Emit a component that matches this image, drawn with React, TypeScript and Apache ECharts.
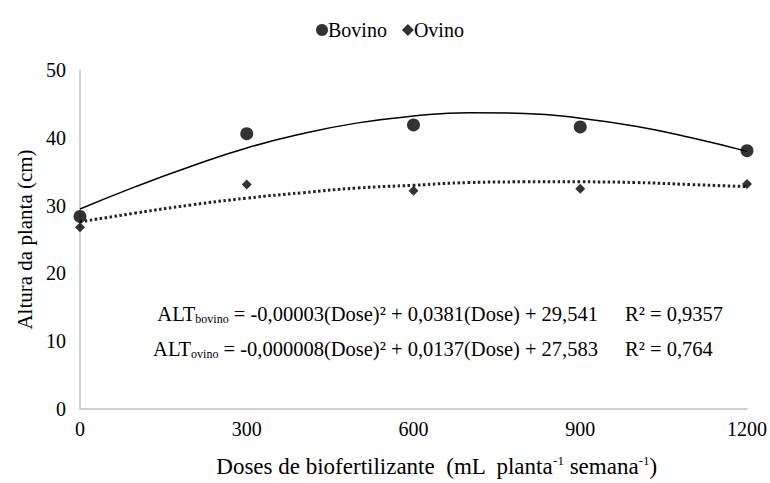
import React, { useEffect, useRef } from "react";
import * as echarts from "echarts";

const doses = [0, 300, 600, 900, 1200];
const bovino = [28.4, 40.6, 41.9, 41.6, 38.1];
const ovino = [26.8, 33.1, 32.2, 32.5, 33.2];

const curveDoses = [0, 100, 200, 300, 400, 500, 600, 700, 800, 900, 1000, 1100, 1200];
const bovinoCurve = [29.5, 32.8, 35.8, 38.5, 40.6, 42.2, 43.2, 43.7, 43.6, 42.9, 41.7, 40.0, 38.0];
const ovinoCurve = [27.6, 28.9, 30.1, 31.1, 31.9, 32.6, 33.0, 33.4, 33.5, 33.5, 33.4, 33.1, 32.8];

const xTicks = [0, 1200, 300];
const yTicks = [0, 50, 10];

const eqBovino = ["ALT", "bovino", " = -0,00003(Dose)² + 0,0381(Dose) + 29,541", "R² = 0,9357"];
const eqOvino = ["ALT", "ovino", " = -0,000008(Dose)² + 0,0137(Dose) + 27,583", "R² = 0,764"];

const FONT = "Liberation Serif";

export default function App() {
  const ref = useRef<HTMLDivElement>(null);
  useEffect(() => {
    if (!ref.current) return;
    const chart = echarts.init(ref.current, undefined, { renderer: "svg" });
    const sub = { fontSize: 12, fontFamily: FONT, color: "#333", verticalAlign: "bottom", lineHeight: 22 };
    const main = { fontSize: 20.5, fontFamily: FONT, color: "#000", lineHeight: 22 };
    const eq = (e: string[], y: number) => [
      {
        type: "text",
        right: 770 - 598,
        top: y,
        style: {
          text: `{m|${e[0]}}{s|${e[1]}}{m|${e[2]}}`,
          rich: { m: main, s: sub },
        },
      },
      {
        type: "text",
        left: 625,
        top: y,
        style: { text: `{m|${e[3]}}`, rich: { m: main } },
      },
    ];
    chart.setOption({
      animation: false,
      backgroundColor: "#fff",
      textStyle: { fontFamily: FONT },
      legend: {
        top: 15,
        left: 311,
        data: [
          { name: "Bovino", icon: "circle" },
          { name: "Ovino", icon: "diamond" },
        ],
        itemWidth: 12,
        itemHeight: 12,
        itemGap: 15,
        textStyle: { fontFamily: FONT, fontSize: 20, color: "#000", padding: [0, 0, 0, -5] },
      },
      grid: { left: 80, right: 19, top: 70, bottom: 72 },
      xAxis: {
        type: "value",
        min: xTicks[0],
        max: xTicks[1],
        interval: xTicks[2],
        splitLine: { show: false },
        axisTick: { show: false },
        axisLine: { lineStyle: { color: "#c0c0c0", width: 1.5 } },
        axisLabel: { color: "#000", fontSize: 20, fontFamily: FONT, margin: 10, formatter: (v: number) => String(v) },
        name: "{a|Doses de biofertilizante  (mL  planta}{s|-1}{a| semana}{s|-1}{a|)}",
        nameLocation: "middle",
        nameGap: 45,
        nameTextStyle: {
          padding: [0, 0, 0, 46],
          rich: {
            a: { fontSize: 23, fontFamily: FONT, color: "#000", lineHeight: 25 },
            s: { fontSize: 13, fontFamily: FONT, color: "#000", verticalAlign: "top", lineHeight: 25 },
          },
        },
      },
      yAxis: {
        type: "value",
        min: yTicks[0],
        max: yTicks[1],
        interval: yTicks[2],
        splitLine: { show: false },
        axisTick: { show: false },
        axisLine: { show: true, lineStyle: { color: "#c0c0c0", width: 1.5 } },
        axisLabel: { color: "#000", fontSize: 20, fontFamily: FONT, margin: 14 },
        name: "Altura da planta (cm)",
        nameLocation: "middle",
        nameGap: 44,
        nameTextStyle: { fontSize: 21, fontFamily: FONT, color: "#000" },
      },
      series: [
        {
          name: "BovinoFit",
          type: "line",
          data: curveDoses.map((d, i) => [d, bovinoCurve[i]]),
          smooth: true,
          symbol: "none",
          lineStyle: { color: "#000", width: 1.5, type: "solid" },
          silent: true,
          z: 1,
        },
        {
          name: "OvinoFit",
          type: "line",
          data: curveDoses.map((d, i) => [d, ovinoCurve[i]]),
          smooth: true,
          symbol: "none",
          lineStyle: { color: "#222", width: 3, type: [2.5, 2.5] },
          silent: true,
          z: 1,
        },
        {
          name: "Bovino",
          type: "scatter",
          data: doses.map((d, i) => [d, bovino[i]]),
          symbol: "circle",
          symbolSize: 13,
          itemStyle: { color: "#000" },
          z: 3,
        },
        {
          name: "Ovino",
          type: "scatter",
          data: doses.map((d, i) => [d, ovino[i]]),
          symbol: "diamond",
          symbolSize: 10,
          itemStyle: { color: "#000" },
          z: 3,
        },
      ],
      graphic: [...eq(eqBovino, 303), ...eq(eqOvino, 338)],
    });
    return () => chart.dispose();
  }, []);
  return <div ref={ref} style={{ position: "absolute", left: 0, top: 0, width: 770, height: 483 }} />;
}
